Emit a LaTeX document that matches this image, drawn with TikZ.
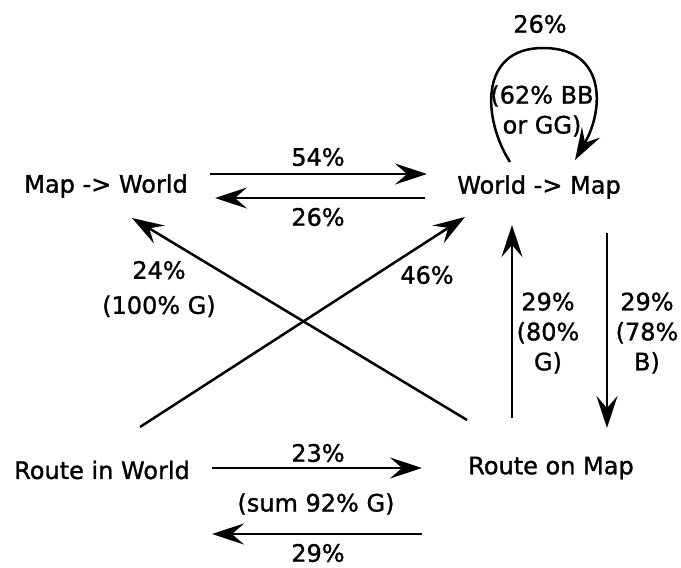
\documentclass[tikz,border=0pt]{standalone}
\usepackage{fontspec}
\setmainfont{DejaVu Sans}
\newfontfamily\heavyfont{DejaVu Sans}[FakeBold=1.2]
\usetikzlibrary{arrows.meta}
\begin{document}
\begin{tikzpicture}[x=1pt,y=-1pt,
  txt/.style={inner sep=0pt,align=center,font=\heavyfont\fontsize{24}{30}\selectfont},
  conn/.style={line width=2.5pt,-{Stealth[length=32pt,width=21pt,inset=12pt]}}]
\useasboundingbox (0,0) rectangle (681,568);
% states
\node[txt] (m2w) at (106,186) {Map -> World};
\node[txt] (w2m) at (539,187) {World -> Map};
\node[txt] (riw) at (102,470) {Route in World};
\node[txt] (rom) at (551,468) {Route on Map};
% arrow end points
\coordinate (a54s) at (210,174); \coordinate (a54e) at (427,174);
\coordinate (a26s) at (425,198); \coordinate (a26e) at (215,198);
\coordinate (a24s) at (467,420); \coordinate (a24e) at (132,218);
\coordinate (a46s) at (140,427); \coordinate (a46e) at (465,217);
\coordinate (aups) at (512,418); \coordinate (aupe) at (512,225);
\coordinate (adns) at (607,233); \coordinate (adne) at (607,428);
\coordinate (a23s) at (212,468); \coordinate (a23e) at (422,468);
\coordinate (abs) at (422,534); \coordinate (abe) at (212,534);
\coordinate (ls) at (510,162); \coordinate (lt) at (543,48); \coordinate (le) at (575,160);
% connectors
\draw[conn] (a54s) -- (a54e);
\draw[conn] (a26s) -- (a26e);
\draw[conn] (a24s) -- (a24e);
\draw[conn] (a46s) -- (a46e);
\draw[conn] (aups) -- (aupe);
\draw[conn] (adns) -- (adne);
\draw[conn] (a23s) -- (a23e);
\draw[conn] (abs) -- (abe);
\draw[conn] (ls) .. controls (483,120) and (478,48) .. (lt) .. controls (607,48) and (604,110) .. (le);
% labels
\node[txt] (l26top) at (540,24) {26\%};
\node[txt] (lloop) at (542,111) {(62\% BB\\or GG)};
\node[txt] (l54) at (318,157) {54\%};
\node[txt] (l26) at (318,217) {26\%};
\node[txt] (l24) at (159,289) {24\%\\[5pt](100\% G)};
\node[txt] (l46) at (427,275) {46\%};
\node[txt] (l29a) at (548,333) {29\%\\(80\%\\G)};
\node[txt] (l29b) at (647,333) {29\%\\(78\%\\B)};
\node[txt] (l23) at (318,453) {23\%};
\node[txt] (lsum) at (316,504) {(sum 92\% G)};
\node[txt] (l29c) at (318,553) {29\%};
\end{tikzpicture}
\end{document}
